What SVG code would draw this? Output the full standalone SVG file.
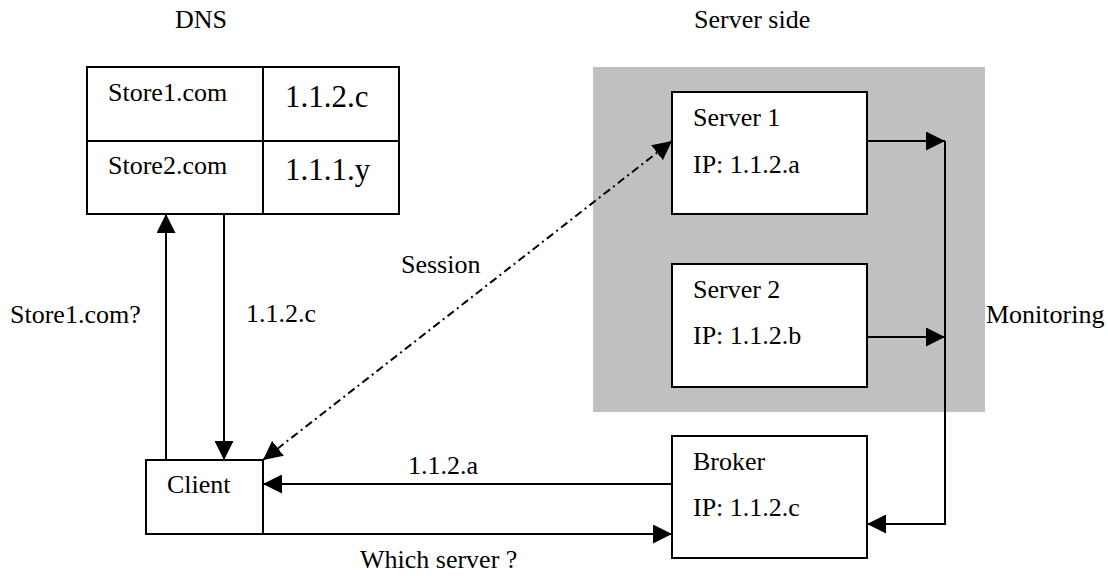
<svg xmlns="http://www.w3.org/2000/svg" width="1108" height="576" viewBox="0 0 1108 576">
<style>
text{font-family:"Liberation Serif","Times New Roman",serif;font-size:26px;fill:#000}
.big{font-size:31px}
.box{fill:#fff;stroke:#000;stroke-width:2}
.ln{fill:none;stroke:#000;stroke-width:2}
.dash{stroke-dasharray:8,4,2,4}
</style>
<defs>
<marker id="ah" markerUnits="userSpaceOnUse" markerWidth="19" markerHeight="19" viewBox="0 0 19 19" refX="19" refY="9.5" orient="auto-start-reverse">
<path d="M0,0 L19,9.5 L0,19 z" fill="#000"/>
</marker>
</defs>
<rect x="0" y="0" width="1108" height="576" fill="#fff"/>
<g id="server-side">
<rect x="593" y="67" width="392" height="345" fill="#c0c0c0"/>
<text x="694" y="28">Server side</text>
</g>
<g id="dns">
<text x="175" y="28">DNS</text>
<rect class="box" x="87" y="67" width="312" height="147"/>
<line class="ln" x1="263" y1="67" x2="263" y2="214"/>
<line class="ln" x1="87" y1="141" x2="399" y2="141"/>
<text x="108" y="101">Store1.com</text>
<text class="big" x="285" y="107">1.1.2.c</text>
<text x="108" y="174">Store2.com</text>
<text class="big" x="285" y="180">1.1.1.y</text>
</g>
<g id="server1">
<rect class="box" x="672" y="92" width="195" height="122"/>
<text x="693" y="126">Server 1</text>
<text x="693" y="173">IP: 1.1.2.a</text>
</g>
<g id="server2">
<rect class="box" x="672" y="264" width="195" height="123"/>
<text x="693" y="298">Server 2</text>
<text x="693" y="344">IP: 1.1.2.b</text>
</g>
<g id="broker">
<rect class="box" x="672" y="436" width="195" height="122"/>
<text x="693" y="470">Broker</text>
<text x="693" y="516">IP: 1.1.2.c</text>
</g>
<g id="client">
<rect class="box" x="146" y="460" width="117" height="74"/>
<text x="167" y="493">Client</text>
</g>
<g id="connectors">
<line class="ln" x1="166" y1="460" x2="166" y2="214" marker-end="url(#ah)"/>
<line class="ln" x1="224" y1="214" x2="224" y2="460" marker-end="url(#ah)"/>
<line class="ln dash" x1="263" y1="460" x2="672" y2="141" marker-start="url(#ah)" marker-end="url(#ah)"/>
<line class="ln" x1="672" y1="484" x2="263" y2="484" marker-end="url(#ah)"/>
<line class="ln" x1="263" y1="534" x2="672" y2="534" marker-end="url(#ah)"/>
<line class="ln" x1="867" y1="141" x2="945" y2="141" marker-end="url(#ah)"/>
<line class="ln" x1="867" y1="337" x2="945" y2="337" marker-end="url(#ah)"/>
<polyline class="ln" points="945,141 945,524 867,524" marker-end="url(#ah)"/>
<text x="10" y="323">Store1.com?</text>
<text x="246" y="322">1.1.2.c</text>
<text x="401" y="273">Session</text>
<text x="986" y="323">Monitoring</text>
<text x="408" y="474">1.1.2.a</text>
<text x="360" y="568">Which server ?</text>
</g>
</svg>
